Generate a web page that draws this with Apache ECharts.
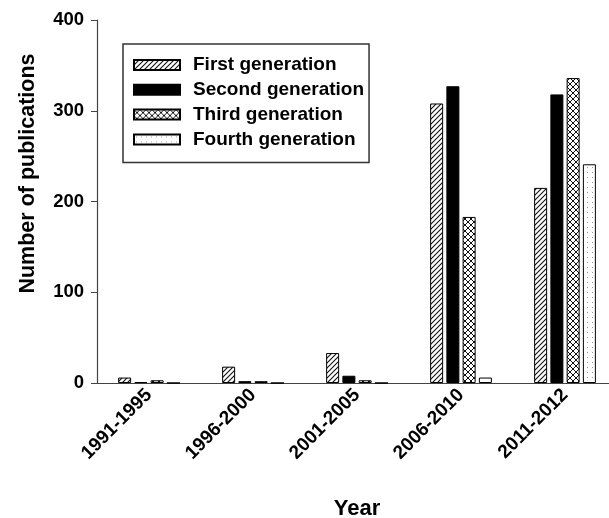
<!DOCTYPE html>
<html>
<head>
<meta charset="utf-8">
<script src="https://cdn.jsdelivr.net/npm/echarts@6/dist/echarts.min.js"></script>
<style>
  html, body { margin: 0; padding: 0; background: #fff; }
  #chart { width: 609px; height: 518px; }
</style>
</head>
<body>
<div id="chart"></div>
<script>
// Publication counts per period, by generation
const years = ['1991-1995', '1996-2000', '2001-2005', '2006-2010', '2011-2012'];
const firstGen  = [6, 18, 33, 308, 215];
const secondGen = [1, 2, 8, 327, 318];
const thirdGen  = [3, 2, 3, 183, 336];
const fourthGen = [0, 0, 0, 6, 241];
const seriesNames = ['First generation', 'Second generation', 'Third generation', 'Fourth generation'];
const yTicks = [0, 100, 200, 300, 400];

// Fill patterns drawn on small canvases
function makePattern(size, draw) {
  const c = document.createElement('canvas');
  c.width = size; c.height = size;
  const ctx = c.getContext('2d');
  ctx.fillStyle = '#fff';
  ctx.fillRect(0, 0, size, size);
  draw(ctx, size);
  return { image: c, repeat: 'repeat' };
}
const hatch = makePattern(5, (ctx, s) => {
  ctx.strokeStyle = '#111'; ctx.lineWidth = 1.1;
  ctx.beginPath();
  ctx.moveTo(-1, s + 1); ctx.lineTo(s + 1, -1);
  ctx.moveTo(-1, 1); ctx.lineTo(1, -1);
  ctx.moveTo(s - 1, s + 1); ctx.lineTo(s + 1, s - 1);
  ctx.stroke();
});
const cross = makePattern(6, (ctx, s) => {
  ctx.strokeStyle = '#111'; ctx.lineWidth = 1;
  ctx.beginPath();
  ctx.moveTo(0, 0); ctx.lineTo(s, s);
  ctx.moveTo(0, s); ctx.lineTo(s, 0);
  ctx.stroke();
});
const dots = makePattern(5, (ctx, s) => {
  ctx.fillStyle = '#999';
  ctx.fillRect(2, 2, 1, 1);
});

const fills = [hatch, '#000', cross, dots];
const values = [firstGen, secondGen, thirdGen, fourthGen];

const font = 'Liberation Sans, Arial, sans-serif';
const chart = echarts.init(document.getElementById('chart'));
chart.setOption({
  animation: false,
  backgroundColor: '#fff',
  grid: { left: 97, top: 20, width: 520, height: 363, containLabel: false, outerBoundsMode: 'none' },
  legend: {
    left: 123, top: 44,
    orient: 'vertical',
    icon: 'rect',
    itemWidth: 46, itemHeight: 10, itemGap: 4.8,
    padding: [11, 5, 13, 10],
    borderColor: '#333', borderWidth: 1.5,
    textStyle: { fontFamily: font, fontWeight: 'bold', fontSize: 19, lineHeight: 20, color: '#000', padding: [0, 0, 0, 8] },
    data: seriesNames
  },
  xAxis: {
    type: 'category',
    data: years,
    name: 'Year',
    nameLocation: 'middle',
    nameGap: 115,
    nameTextStyle: { fontFamily: font, fontWeight: 'bold', fontSize: 22, color: '#000' },
    axisLine: { lineStyle: { color: '#444', width: 1.2 } },
    axisTick: { alignWithLabel: true, length: 6, lineStyle: { color: '#444' } },
    axisLabel: { rotate: 45, fontFamily: font, fontWeight: 'bold', fontSize: 19, color: '#000', margin: 9 }
  },
  yAxis: {
    type: 'value',
    min: yTicks[0], max: yTicks[yTicks.length - 1], interval: 100,
    name: 'Number of publications',
    nameLocation: 'middle',
    nameGap: 58,
    nameTextStyle: { fontFamily: font, fontWeight: 'bold', fontSize: 21.5, color: '#000', padding: [0, 0, 0, 56] },
    axisLine: { show: true, lineStyle: { color: '#444', width: 1.2 } },
    axisTick: { show: true, length: 6, lineStyle: { color: '#444' } },
    splitLine: { show: false },
    axisLabel: { fontFamily: font, fontWeight: 'bold', fontSize: 18.5, color: '#000', margin: 13 }
  },
  series: seriesNames.map((name, i) => ({
    name,
    type: 'bar',
    data: values[i],
    barWidth: 13,
    barGap: '25%',
    itemStyle: { color: fills[i], borderColor: '#000', borderWidth: 1 }
  }))
});
</script>
</body>
</html>
